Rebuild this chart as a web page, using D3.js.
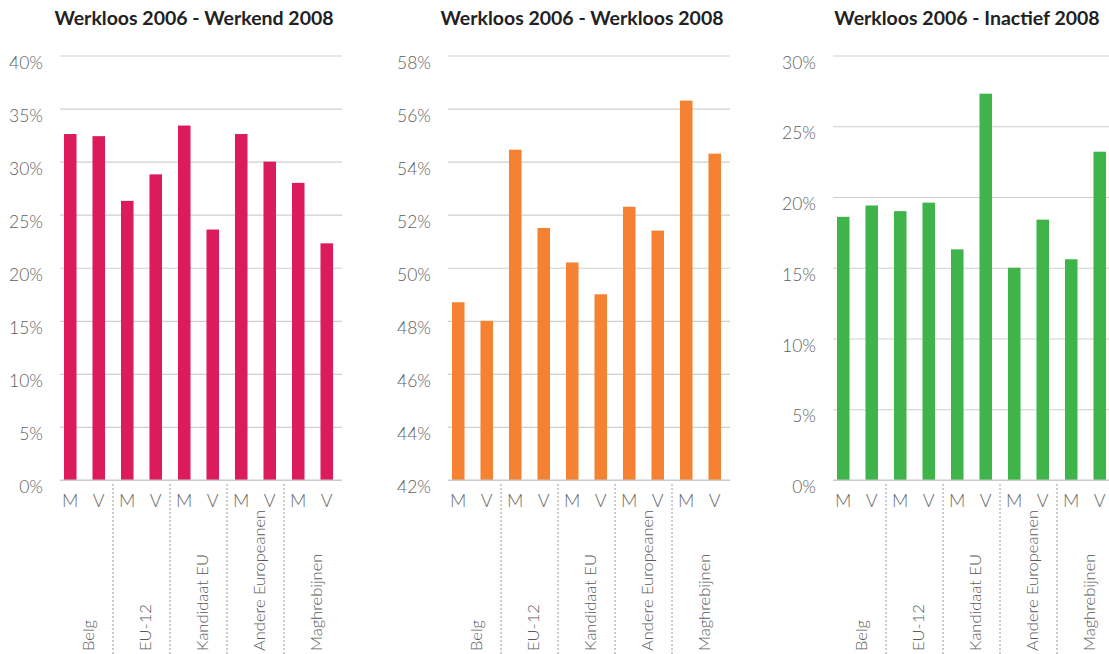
<!DOCTYPE html>
<html>
<head>
<meta charset="utf-8">
<script src="https://cdn.jsdelivr.net/npm/d3@7"></script>
<style>
  html, body { margin: 0; padding: 0; background: #fff; }
  svg { display: block; }
  .tick text { font-family: Lato, "Open Sans", sans-serif; font-weight: 300; }
</style>
</head>
<body>
<svg id="chart" width="1109" height="654"></svg>
<script>
// ---- data ----
const groups = ["Belg", "EU-12", "Kandidaat EU", "Andere Europeanen", "Maghrebijnen"];
const sexes = ["M", "V"];
const titles = ["Werkloos 2006 - Werkend 2008", "Werkloos 2006 - Werkloos 2008", "Werkloos 2006 - Inactief 2008"];
// values per bar: Belg M, Belg V, EU-12 M, EU-12 V, ...
const werkendValues  = [32.6, 32.4, 26.3, 28.8, 33.4, 23.6, 32.6, 30.0, 28.0, 22.3];
const werkloosValues = [48.7, 48.0, 54.45, 51.5, 50.2, 49.0, 52.3, 51.4, 56.3, 54.3];
const inactiefValues = [18.6, 19.4, 19.0, 19.6, 16.3, 27.3, 15.0, 18.4, 15.6, 23.2];
const werkendTicks  = [0, 5, 10, 15, 20, 25, 30, 35, 40];
const werkloosTicks = [42, 44, 46, 48, 50, 52, 54, 56, 58];
const inactiefTicks = [0, 5, 10, 15, 20, 25, 30];
const colors = ["#dc1b5e", "#f58233", "#3eb44b"];

const panels = [
  { title: titles[0], values: werkendValues,  ticks: werkendTicks,  color: colors[0], x0: 56 },
  { title: titles[1], values: werkloosValues, ticks: werkloosTicks, color: colors[1], x0: 444 },
  { title: titles[2], values: inactiefValues, ticks: inactiefTicks, color: colors[2], x0: 829 }
];

const svg = d3.select("#chart");
const yTop = 55.5, yBottom = 480;
const bandWidthTotal = 285;
const font = "Lato, 'Open Sans', sans-serif";

panels.forEach(p => {
  const g = svg.append("g");
  const bars = p.values.map((v, i) => ({ i, v, group: groups[Math.floor(i / 2)], sex: sexes[i % 2] }));
  const x = d3.scaleBand()
    .domain(bars.map(d => d.i))
    .range([p.x0, p.x0 + bandWidthTotal])
    .paddingInner(0.56)
    .paddingOuter(0.28);
  const y = d3.scaleLinear()
    .domain([d3.min(p.ticks), d3.max(p.ticks)])
    .range([yBottom, yTop]);

  // y axis with gridlines
  const gridX0 = p.x0 + 4, gridX1 = p.x0 + 286;
  const yAxis = g.append("g")
    .attr("transform", `translate(${gridX0},0)`)
    .call(d3.axisLeft(y).tickValues(p.ticks).tickFormat(d => d + "%")
      .tickSize(-(gridX1 - gridX0)).tickPadding(17));
  yAxis.select(".domain").remove();
  yAxis.selectAll(".tick line").attr("stroke", "#cfcfcf").attr("stroke-width", 1.2);
  yAxis.selectAll(".tick text")
    .attr("fill", "#606060")
    .attr("dy", "0.72em")
    .style("font-size", "17.5px");

  // bars
  g.append("g").selectAll("rect")
    .data(bars)
    .join("rect")
    .attr("x", d => x(d.i))
    .attr("width", x.bandwidth())
    .attr("y", d => y(d.v))
    .attr("height", d => yBottom - y(d.v))
    .attr("fill", p.color);

  // baseline
  g.append("line")
    .attr("x1", gridX0).attr("x2", gridX1)
    .attr("y1", yBottom).attr("y2", yBottom)
    .attr("stroke", "#c8c8c8").attr("stroke-width", 1.2);

  // x axis: M / V
  const xAxis = g.append("g")
    .attr("transform", `translate(0,${yBottom})`)
    .call(d3.axisBottom(x).tickFormat(i => bars[i].sex).tickSize(0).tickPadding(14));
  xAxis.select(".domain").remove();
  xAxis.selectAll(".tick text")
    .attr("fill", "#6a6a6a")
    .style("font-size", "18px");

  // dotted group separators
  const step = x.step();
  const seps = groups.slice(1).map((gName, k) => x(2 * (k + 1)) - (step - x.bandwidth()) / 2);
  g.append("g").selectAll("line")
    .data(seps)
    .join("line")
    .attr("x1", d => d).attr("x2", d => d)
    .attr("y1", yBottom + 4).attr("y2", 654)
    .attr("stroke", "#9a9a9a")
    .attr("stroke-width", 1)
    .attr("stroke-dasharray", "2,2");

  // group labels (rotated)
  g.append("g").selectAll("text")
    .data(groups)
    .join("text")
    .attr("transform", (d, k) => {
      const cx = (x(2 * k) + x(2 * k + 1) + x.bandwidth()) / 2 + 4;
      return `translate(${cx},651) rotate(-90)`;
    })
    .attr("dy", "0.35em")
    .attr("text-anchor", "start")
    .attr("fill", "#5a5a5a")
    .style("font-family", font)
    .style("font-weight", 300)
    .style("font-size", "16.5px")
    .text(d => d);

  // title
  g.append("text")
    .attr("x", p.x0 + 138)
    .attr("y", 25)
    .attr("text-anchor", "middle")
    .attr("fill", "#222")
    .style("font-family", font)
    .style("font-weight", 700)
    .style("font-size", "19.5px")
    .text(p.title);
});
</script>
</body>
</html>
